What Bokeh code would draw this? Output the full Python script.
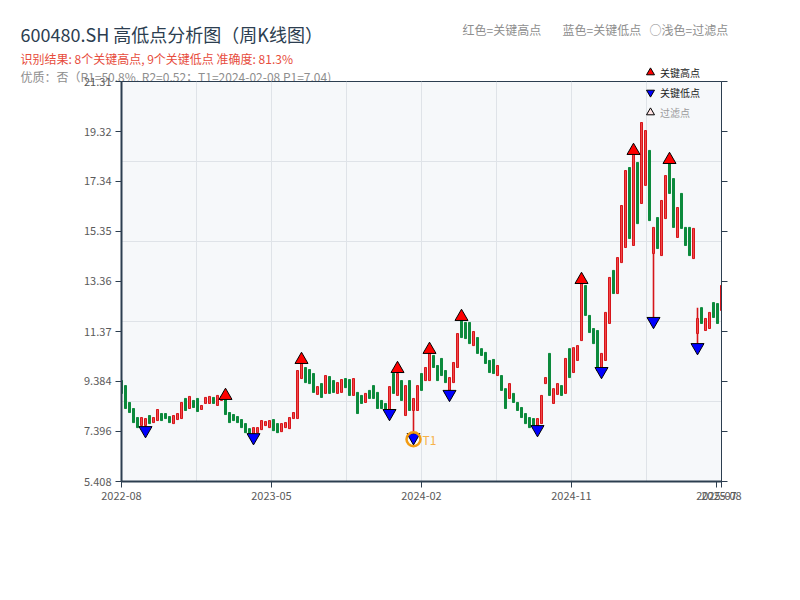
from bokeh.plotting import figure
from bokeh.layouts import column
from bokeh.models import (ColumnDataSource, FixedTicker, CustomJSTickFormatter, LinearAxis,
                          Label, Legend, LegendItem, Range1d)
from bokeh.embed import file_html
from bokeh.resources import INLINE

# ---------------- data (weekly K-line, 600480.SH) ----------------
open_ = [9.42, 9.22, 8.55, 8.31, 7.95, 7.63, 7.63, 8.03, 7.75, 7.83,
         8.11, 8.11, 7.99, 7.71, 7.87, 7.91, 8.71, 8.31, 8.63, 8.71,
         8.27, 8.51, 8.51, 8.75, 8.43, 8.63, 8.67, 8.15, 8.07, 7.99,
         7.87, 7.71, 7.51, 7.31, 7.35, 7.47, 7.63, 7.55, 7.87, 7.71,
         7.39, 7.55, 7.51, 7.91, 7.91, 9.50, 9.94, 9.86, 9.70, 8.87,
         9.30, 8.91, 9.58, 9.42, 8.91, 8.95, 9.50, 9.46, 8.83, 8.95,
         8.83, 8.55, 9.03, 9.22, 8.95, 8.63, 8.51, 8.27, 9.70, 8.83,
         9.42, 8.03, 9.42, 8.23, 8.23, 9.70, 9.42, 9.42, 10.42, 10.02,
         10.30, 9.82, 9.03, 9.34, 9.94, 11.81, 11.73, 11.73, 10.81, 11.13,
         10.69, 10.54, 10.22, 10.26, 9.62, 9.62, 9.10, 8.71, 8.91, 8.55,
         8.35, 8.11, 7.95, 7.91, 7.63, 7.71, 9.30, 10.50, 8.51, 8.87,
         9.22, 8.91, 10.69, 9.74, 10.22, 11.01, 13.20, 12.01, 11.49, 11.41,
         9.94, 10.22, 11.69, 13.80, 12.88, 14.11, 14.71, 17.89, 14.79, 18.09,
         16.46, 17.18, 18.57, 14.47, 15.90, 14.39, 15.86, 18.05, 17.45, 15.11,
         16.86, 15.51, 15.51, 14.27, 11.29, 12.32, 11.41, 11.49, 12.52, 12.48,
         12.21]
close_ = [8.91, 8.31, 8.15, 7.75, 7.55, 7.95, 7.91, 7.71, 7.95, 8.27,
          7.83, 7.91, 7.75, 8.03, 8.11, 8.55, 8.23, 8.79, 8.35, 8.19,
          8.43, 8.75, 8.79, 8.51, 8.83, 8.79, 8.07, 7.75, 7.83, 7.75,
          7.55, 7.35, 7.31, 7.55, 7.55, 7.83, 7.79, 7.83, 7.43, 7.35,
          7.71, 7.75, 7.95, 8.15, 9.82, 10.10, 9.34, 9.30, 8.95, 9.18,
          8.75, 9.62, 8.91, 8.95, 9.34, 9.46, 9.14, 8.83, 9.50, 8.11,
          8.51, 8.91, 8.71, 8.71, 8.31, 8.31, 8.23, 9.18, 8.91, 9.70,
          8.63, 9.22, 8.23, 8.71, 9.22, 9.03, 9.94, 10.50, 9.94, 9.42,
          9.62, 9.34, 9.54, 10.14, 11.29, 11.13, 11.09, 10.89, 11.37, 10.50,
          10.42, 10.10, 9.74, 9.70, 10.02, 9.03, 8.31, 9.30, 8.55, 8.23,
          7.95, 7.71, 7.55, 7.55, 7.91, 8.83, 9.54, 8.83, 9.10, 9.30,
          8.83, 10.30, 9.54, 10.73, 10.81, 13.28, 12.01, 11.33, 10.89, 9.82,
          10.50, 12.13, 13.52, 12.88, 14.31, 16.38, 17.77, 15.07, 18.41, 15.66,
          19.68, 19.36, 15.78, 15.51, 14.67, 16.58, 17.57, 16.86, 15.51, 16.30,
          15.47, 14.79, 14.39, 15.47, 11.89, 11.69, 11.89, 12.13, 11.93, 11.69,
          13.20]
high_ = [9.42, 9.22, 8.55, 8.31, 7.95, 7.95, 7.91, 8.03, 7.95, 8.27,
         8.11, 8.11, 7.99, 8.03, 8.11, 8.55, 8.71, 8.79, 8.63, 8.71,
         8.43, 8.75, 8.79, 8.75, 8.83, 8.79, 8.67, 8.15, 8.07, 7.99,
         7.87, 7.71, 7.51, 7.55, 7.55, 7.83, 7.79, 7.83, 7.87, 7.71,
         7.71, 7.75, 7.95, 8.15, 9.82, 10.10, 9.94, 9.86, 9.70, 9.18,
         9.30, 9.62, 9.58, 9.42, 9.34, 9.46, 9.50, 9.46, 9.50, 8.95,
         8.83, 8.91, 9.03, 9.22, 8.95, 8.63, 8.51, 9.18, 9.70, 9.74,
         9.42, 9.22, 9.42, 8.71, 9.22, 9.70, 9.94, 10.50, 10.42, 10.02,
         10.30, 9.82, 9.54, 10.14, 11.29, 11.81, 11.73, 11.73, 11.37, 11.13,
         10.69, 10.54, 10.22, 10.26, 10.02, 9.62, 9.10, 9.30, 8.91, 8.55,
         8.35, 8.11, 7.95, 7.91, 7.91, 8.83, 9.54, 10.50, 9.10, 9.30,
         9.22, 10.30, 10.69, 10.73, 10.81, 13.28, 13.20, 12.01, 11.49, 11.41,
         10.50, 12.13, 13.52, 13.80, 14.31, 16.38, 17.77, 17.89, 18.41, 18.09,
         19.68, 19.36, 18.57, 15.51, 15.90, 16.58, 17.57, 18.05, 17.45, 16.30,
         16.86, 15.51, 15.51, 15.47, 12.32, 12.32, 11.89, 12.13, 12.52, 12.48,
         13.20]
low_ = [8.91, 8.31, 8.15, 7.75, 7.55, 7.63, 7.59, 7.71, 7.75, 7.83,
        7.83, 7.91, 7.75, 7.71, 7.87, 7.91, 8.23, 8.31, 8.35, 8.19,
        8.27, 8.51, 8.51, 8.51, 8.43, 8.63, 8.07, 7.75, 7.83, 7.75,
        7.55, 7.35, 7.31, 7.31, 7.35, 7.47, 7.63, 7.55, 7.43, 7.35,
        7.39, 7.55, 7.51, 7.91, 7.91, 9.50, 9.34, 9.30, 8.95, 8.87,
        8.75, 8.91, 8.91, 8.95, 8.91, 8.95, 9.14, 8.83, 8.83, 8.11,
        8.51, 8.55, 8.71, 8.71, 8.31, 8.31, 8.23, 8.27, 8.91, 8.83,
        8.63, 8.03, 8.23, 7.31, 8.23, 9.03, 9.42, 9.42, 9.94, 9.42,
        9.62, 9.34, 9.03, 9.34, 9.94, 11.13, 11.09, 10.89, 10.81, 10.50,
        10.42, 10.10, 9.74, 9.70, 9.62, 9.03, 8.31, 8.71, 8.55, 8.23,
        7.95, 7.71, 7.55, 7.55, 7.63, 7.71, 9.30, 8.83, 8.51, 8.87,
        8.83, 8.91, 9.54, 9.74, 10.22, 11.01, 12.01, 11.33, 10.89, 9.82,
        9.94, 10.22, 11.69, 12.88, 12.88, 14.11, 14.71, 15.07, 14.79, 15.66,
        16.46, 17.18, 15.78, 11.93, 14.67, 14.39, 15.86, 16.86, 15.51, 15.11,
        15.47, 14.79, 14.39, 14.27, 10.89, 11.69, 11.41, 11.49, 11.93, 11.69,
        12.21]

key_high_idx = [26, 45, 69, 77, 85, 115, 128, 137]
key_high_px = [8.67, 10.10, 9.74, 10.50, 11.81, 13.28, 18.41, 18.05]
key_low_idx = [6, 33, 67, 73, 82, 104, 120, 133, 144]
key_low_px = [7.59, 7.31, 8.27, 7.31, 9.03, 7.63, 9.94, 11.93, 10.89]
t1_idx = 73
t1_low = 7.31

y_ticks = [5.408, 7.396, 9.384, 11.37, 13.36, 15.35, 17.34, 19.32, 21.31]
x_tick_pos = [0, 37.5, 75, 112.5, 148.75, 150]
x_tick_labels = ["2022-08", "2023-05", "2024-02", "2024-11", "2025-07", "2025-08"]

title_text = "600480.SH 高低点分析图（周K线图）"
result_text = "识别结果: 8个关键高点, 9个关键低点  准确度: 81.3%"
quality_text = "优质：否（R1=50.8%, R2=0.52；T1=2024-02-08 P1=7.04)"
note_texts = ["红色=关键高点", "蓝色=关键低点", "○浅色=过滤点"]
legend_labels = ["关键高点", "关键低点", "过滤点"]

CJK = "Noto Sans CJK SC"
AX = "#2c3e50"
TOTAL_W = 792
HEAD_H = 84          # header strip height
OVERLAP = 11         # main chart canvas slides up under the header strip
NAN = float("nan")

# ---------------- header strip (titles + first legend row) ----------------
head = figure(width=TOTAL_W, height=HEAD_H, x_range=Range1d(0, TOTAL_W), y_range=Range1d(0, HEAD_H),
              x_axis_type=None, y_axis_type=None, min_border=0,
              output_backend="svg", toolbar_location=None)
head.frame_align = False
head.grid.visible = False
head.outline_line_color = None
head.background_fill_color = "white"
head.border_fill_color = "white"

def txt(fig, x, y, s, size, color):
    fig.add_layout(Label(x=x, y=y, x_units="screen", y_units="screen", text=s,
                         text_baseline="middle", text_align="left", text_font=CJK,
                         text_font_size=size, text_color=color))

txt(head, 20, HEAD_H - 33.5, title_text, "18px", "#2c3e50")
txt(head, 20, HEAD_H - 58, result_text, "12px", "#e74c3c")
txt(head, 20, HEAD_H - 75.5, quality_text, "12px", "#8e8e8e")
for xx, s in zip((462, 562, 649), note_texts):
    txt(head, xx, HEAD_H - 29, s, "12px", "#8e8e8e")

MS = 13
h_hi_dummy = head.scatter(x=[NAN], y=[NAN], marker="triangle", size=MS, fill_color="#ff0000",
                          line_color="black", line_width=1)

def style_legend(lg, col):
    lg.background_fill_alpha = 0
    lg.border_line_color = None
    lg.padding = 0
    lg.margin = 0
    lg.spacing = 0
    lg.glyph_width = 20
    lg.glyph_height = 20
    lg.label_height = 20
    lg.label_standoff = 0
    lg.label_text_font = CJK
    lg.label_text_font_size = "10px"
    lg.label_text_color = col
    lg.label_text_baseline = "middle"

leg_h = Legend(items=[LegendItem(label=legend_labels[0], renderers=[h_hi_dummy])],
               location=(640, HEAD_H - 82))
style_legend(leg_h, "#222222")
head.add_layout(leg_h, "center")

# ---------------- main K-line chart ----------------
N = len(open_)
Y0, Y1 = y_ticks[0], y_ticks[-1]
FW, FH = 600, 400
px = (Y1 - Y0) / FH   # one screen pixel in price units

p = figure(frame_width=FW, frame_height=FH,
           x_range=Range1d(0, N - 1), y_range=Range1d(Y0, Y1),
           min_border_left=121, min_border_right=TOTAL_W - 121 - FW,
           min_border_top=81 - (HEAD_H - OVERLAP), min_border_bottom=100,
           output_backend="svg", toolbar_location=None,
           background_fill_color="#f6f8fa", border_fill_color=None,
           styles={"margin-top": f"-{OVERLAP}px"})
p.frame_align = False
p.outline_line_color = AX
p.outline_line_width = 1

p.xgrid.ticker = FixedTicker(ticks=[(N - 1) * k / 8 for k in range(9)])
p.ygrid.ticker = FixedTicker(ticks=[Y0 + (Y1 - Y0) * k / 5 for k in range(6)])
for g in (p.xgrid[0], p.ygrid[0]):
    g.grid_line_color = "#dfe3e8"
    g.grid_line_width = 1

xa = p.xaxis[0]
xa.ticker = FixedTicker(ticks=x_tick_pos)
xa.formatter = CustomJSTickFormatter(args=dict(pos=x_tick_pos, lab=x_tick_labels),
                                     code="const i = pos.indexOf(tick); return i < 0 ? '' : lab[i];")
ya = p.yaxis[0]
ya.ticker = FixedTicker(ticks=y_ticks)
ya.formatter = CustomJSTickFormatter(code="return String(tick);")
ra = LinearAxis(ticker=FixedTicker(ticks=y_ticks))
p.add_layout(ra, "right")
for a in (xa, ya, ra):
    a.axis_line_color = AX
    a.axis_line_width = 2
    a.major_tick_line_color = AX
    a.major_tick_line_width = 1
    a.major_tick_out = 6
    a.major_tick_in = 0
    a.minor_tick_line_color = None
    a.major_label_text_color = "#5a5a5a"
    a.major_label_text_font = CJK
    a.major_label_text_font_size = "11px"
    a.major_label_standoff = 4
ra.axis_line_width = 1
ra.major_label_text_font_size = "0px"
ra.major_label_text_alpha = 0

# candles
idx = list(range(N))
up = [c >= o for o, c in zip(open_, close_)]
def sub(flag):
    sel = [i for i in idx if up[i] == flag]
    return ColumnDataSource(dict(
        x=sel,
        top=[max(open_[i], close_[i]) for i in sel],
        bot=[min(open_[i], close_[i]) for i in sel],
        hi=[high_[i] for i in sel],
        lo=[low_[i] for i in sel]))
src_up, src_dn = sub(True), sub(False)
RED_L, RED_F, GRN = "#d6151a", "#f04848", "#0c8a3c"
p.segment(x0="x", y0="hi", x1="x", y1="lo", source=src_up, line_color=RED_L, line_width=1.6)
p.segment(x0="x", y0="hi", x1="x", y1="lo", source=src_dn, line_color=GRN, line_width=1.6)
p.vbar(x="x", width=0.5, top="top", bottom="bot", source=src_up,
       fill_color=RED_F, line_color=RED_L, line_width=1)
p.vbar(x="x", width=0.5, top="top", bottom="bot", source=src_dn,
       fill_color=GRN, line_color=GRN, line_width=1)

# key points
tri_c = MS * 3 ** 0.5 / 6          # base-to-centroid distance (px)
tri_h = MS * 3 ** 0.5 / 2          # triangle height (px)
r_hi = p.scatter(x=key_high_idx, y=[v + tri_c * px for v in key_high_px], marker="triangle",
                 size=MS, fill_color="#ff0000", line_color="black", line_width=1)
r_lo = p.scatter(x=key_low_idx, y=[v - tri_c * px for v in key_low_px], marker="inverted_triangle",
                 size=MS, fill_color="#0000ff", line_color="black", line_width=1)
r_f = p.scatter(x=[NAN], y=[NAN], marker="triangle", size=MS, fill_color="#ffe3e3",
                line_color="black", line_width=1)

# T1 highlight
t1_y = t1_low - tri_h / 2 * px
p.scatter(x=[t1_idx], y=[t1_y], marker="circle", size=14, fill_color=None,
          line_color="#f39c12", line_width=2.5)
p.add_layout(Label(x=t1_idx, y=t1_y, x_offset=9, text="T1", text_baseline="middle",
                   text_color="#f7b24a", text_font=CJK, text_font_size="12px"))

# legend rows inside the frame
leg_lo = Legend(items=[LegendItem(label=legend_labels[1], renderers=[r_lo])], location=(519, 379))
leg_f = Legend(items=[LegendItem(label=legend_labels[2], renderers=[r_f])], location=(519, 359))
style_legend(leg_lo, "#222222")
style_legend(leg_f, "#9a9a9a")
p.add_layout(leg_lo, "center")
p.add_layout(leg_f, "center")

open("out.html", "w").write(file_html(column(head, p, spacing=0), INLINE))
